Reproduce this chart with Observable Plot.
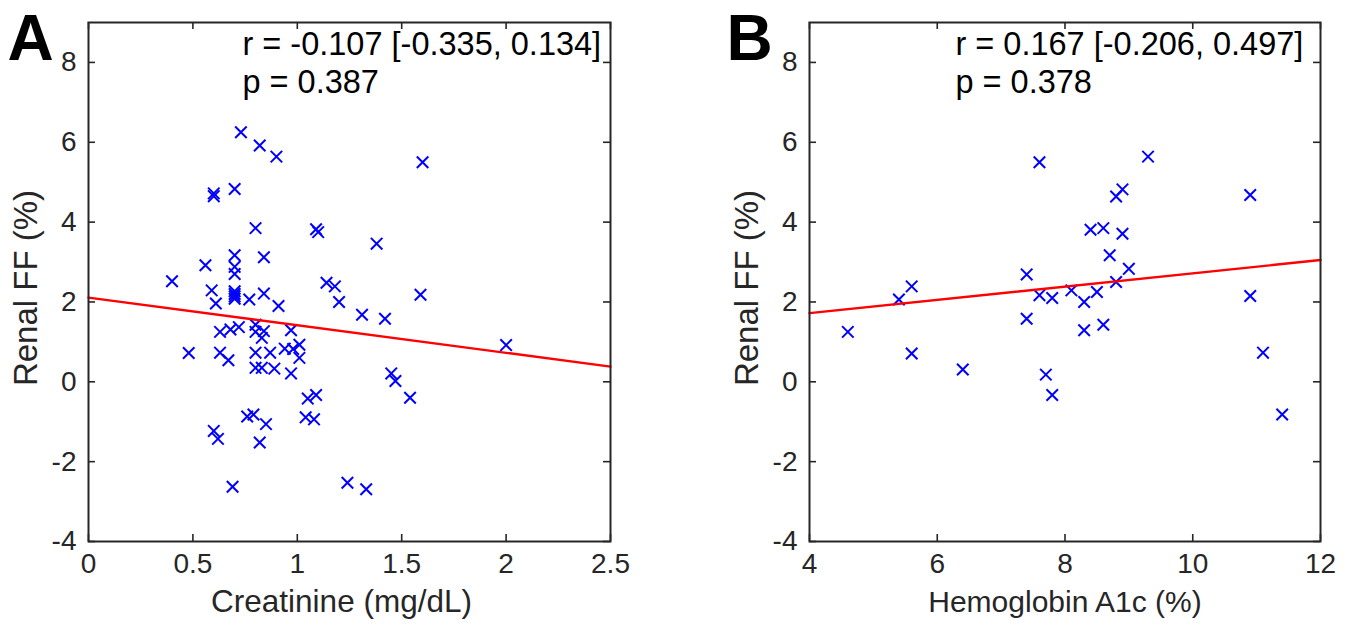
<!DOCTYPE html>
<html>
<head>
<meta charset="utf-8">
<script src="https://cdn.jsdelivr.net/npm/d3@7"></script>
<script src="https://cdn.jsdelivr.net/npm/@observablehq/plot@0.6"></script>
<style>
  html, body { margin: 0; padding: 0; background: #fff; }
  #wrap { position: relative; width: 1355px; height: 625px; overflow: hidden; }
  #wrap > div { position: absolute; top: 0; }
</style>
</head>
<body>
<div id="wrap"><div id="pa" style="left:0px"></div><div id="pb" style="left:680px"></div></div>
<script>
// ---- Panel A data: Creatinine vs Renal FF ----
const creatinine = [0.40,0.48,0.56,0.59,0.60,0.60,0.61,0.60,0.62,0.63,0.63,0.67,0.68,0.69,0.70,0.70,0.70,0.70,0.70,0.70,0.70,0.70,0.72,0.73,0.76,0.77,0.79,0.80,0.80,0.80,0.80,0.80,0.82,0.82,0.83,0.83,0.84,0.84,0.84,0.85,0.87,0.89,0.90,0.91,0.94,0.97,0.97,0.98,1.01,1.01,1.04,1.05,1.08,1.09,1.09,1.10,1.14,1.18,1.20,1.24,1.31,1.33,1.38,1.42,1.45,1.47,1.54,1.59,1.60,2.00];
const renalFF_A = [2.52,0.72,2.92,2.29,4.72,4.65,1.96,-1.23,-1.43,1.25,0.73,0.54,1.31,-2.63,4.83,3.17,2.88,2.70,2.27,2.20,2.14,2.08,1.37,6.25,-0.87,2.06,-0.82,3.85,1.43,1.25,0.73,0.35,5.92,-1.52,1.10,0.35,3.12,2.21,1.27,-1.06,0.73,0.33,5.64,1.90,0.83,0.21,1.29,0.82,0.93,0.60,-0.89,-0.42,-0.94,-0.33,3.82,3.75,2.48,2.39,2.00,-2.53,1.68,-2.69,3.46,1.58,0.21,0.02,-0.40,2.18,5.50,0.92];
const fitA_x = [0, 2.5];
const fitA_y = [2.11, 0.38];
const statsA = ["r = -0.107 [-0.335, 0.134]", "p = 0.387"];

// ---- Panel B data: Hemoglobin A1c vs Renal FF ----
const hba1c = [4.6,5.4,5.6,5.6,6.4,7.4,7.4,7.6,7.6,7.7,7.8,7.8,8.1,8.3,8.3,8.4,8.5,8.6,8.6,8.7,8.8,8.8,8.9,8.9,9.0,9.3,10.9,10.9,11.1,11.4];
const renalFF_B = [1.25,2.06,2.39,0.71,0.31,2.69,1.58,5.50,2.17,0.18,2.10,-0.33,2.29,2.00,1.29,3.81,2.25,3.85,1.43,3.17,4.64,2.50,4.82,3.71,2.83,5.64,4.68,2.15,0.73,-0.82];
const fitB_x = [4, 12];
const fitB_y = [1.72, 3.05];
const statsB = ["r = 0.167 [-0.206, 0.497]", "p = 0.378"];

// ---- Axes ----
const yDomain = [-4, 9];
const yTicks = [-4, -2, 0, 2, 4, 6, 8];
const xTicksA = [0, 0.5, 1, 1.5, 2, 2.5];
const xTicksB = [4, 6, 8, 10, 12];
const yLabel = "Renal FF (%)";

const H = 625, MT = 22, MB = 84, TICK = 7;
const AX = "#262626";
const FONT = "'Liberation Sans', Arial, Helvetica, sans-serif";

function panel(cfg) {
  const innerW = cfg.width - cfg.ml - cfg.mr;
  const innerH = H - MT - MB;
  const pts = cfg.xs.map((x, i) => ({x, y: cfg.ys[i]}));
  const fit = cfg.fx.map((x, i) => ({x, y: cfg.fy[i]}));
  return Plot.plot({
    width: cfg.width, height: H,
    marginLeft: cfg.ml, marginRight: cfg.mr, marginTop: MT, marginBottom: MB,
    style: {fontFamily: FONT, fontSize: "28px", color: AX, background: "transparent", overflow: "visible"},
    x: {domain: cfg.xDomain, ticks: cfg.xTicks},
    y: {domain: yDomain, ticks: yTicks},
    marks: [
      Plot.axisX(cfg.xTicks, {tickSize: 0, tickPadding: 12, tickFormat: d => String(d), label: null, fontSize: 28, fill: AX}),
      Plot.axisY(yTicks, {tickSize: 0, tickPadding: 12, tickFormat: d => String(d), label: null, fontSize: 28, fill: AX}),
      Plot.tickX(cfg.xTicks, {x: d => d, insetTop: innerH - TICK, stroke: AX, strokeWidth: 1.6}),
      Plot.tickX(cfg.xTicks, {x: d => d, insetBottom: innerH - TICK, stroke: AX, strokeWidth: 1.6}),
      Plot.tickY(yTicks, {y: d => d, insetRight: innerW - TICK, stroke: AX, strokeWidth: 1.6}),
      Plot.tickY(yTicks, {y: d => d, insetLeft: innerW - TICK, stroke: AX, strokeWidth: 1.6}),
      Plot.dot(pts, {x: "x", y: "y", symbol: "times", r: 5.3, stroke: "#0000ff", strokeWidth: 2}),
      Plot.line(fit, {x: "x", y: "y", stroke: "#ff0000", strokeWidth: 2.4}),
      Plot.frame({stroke: AX, strokeWidth: 2}),
      Plot.text([cfg.stats[0]], {frameAnchor: "top-left", dx: cfg.tdx, dy: 9, text: d => d, textAnchor: "start", fontSize: 32.5, fill: "#000"}),
      Plot.text([cfg.stats[1]], {frameAnchor: "top-left", dx: cfg.tdx, dy: 47, text: d => d, textAnchor: "start", fontSize: 32.5, fill: "#000"}),
      Plot.text([cfg.xLabel], {frameAnchor: "bottom", dx: cfg.xldx, dy: 70, text: d => d, fontSize: cfg.xlfs, fill: AX}),
      Plot.text([yLabel], {frameAnchor: "left", dx: -62, dy: 6, rotate: -90, textAnchor: "middle", text: d => d, fontSize: 33, fill: AX}),
      Plot.text([cfg.letter], {frameAnchor: "top-left", dx: cfg.ldx, dy: -8, text: d => d, textAnchor: "start", fontSize: 64, fontWeight: "bold", fill: "#000"})
    ]
  });
}

document.getElementById("pa").appendChild(panel({
  xs: creatinine, ys: renalFF_A, fx: fitA_x, fy: fitA_y, stats: statsA,
  xDomain: [0, 2.5], xTicks: xTicksA, xLabel: "Creatinine (mg/dL)", xldx: -8, xlfs: 31.5,
  letter: "A", width: 680, ml: 88, mr: 70, tdx: 154, ldx: -81
}));
document.getElementById("pb").appendChild(panel({
  xs: hba1c, ys: renalFF_B, fx: fitB_x, fy: fitB_y, stats: statsB,
  xDomain: [4, 12], xTicks: xTicksB, xLabel: "Hemoglobin A1c (%)", xldx: 0, xlfs: 30,
  letter: "B", width: 675, ml: 129, mr: 35, tdx: 146, ldx: -83
}));
</script>
</body>
</html>
